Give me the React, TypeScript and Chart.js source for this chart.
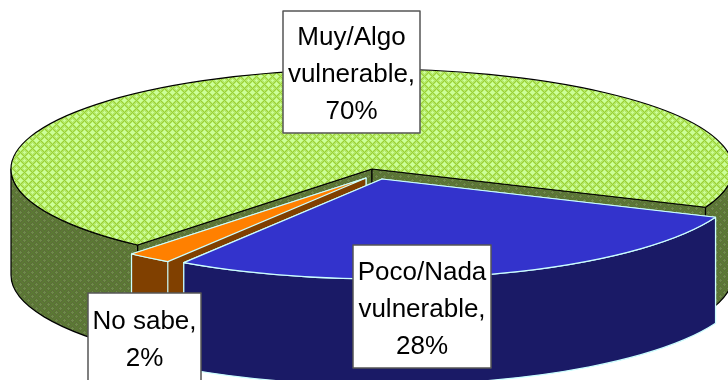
import React, { useEffect, useRef } from "react";
import { Chart, registerables } from "chart.js";

Chart.register(...registerables);

const categories = ["Poco/Nada vulnerable", "No sabe", "Muy/Algo vulnerable"];
const shares = [28, 2, 70];
const labelLines = [["Poco/Nada", "vulnerable,"], ["No sabe,"], ["Muy/Algo", "vulnerable,"]];

const RADIUS_X = 361;
const RADIUS_Y = 100;
const DEPTH = 106;
const centers = [
  [382, 179],
  [366, 178],
  [372, 169],
];
const labelBoxes = [
  [353, 245, 138, 123],
  [88, 293, 113, 88],
  [283, 11, 137, 122],
];
const drawOrder = [2, 1, 0];
const edgeColors = ["#CCFFFF", "#CCFFFF", "#000000"];

function tile(colorAt: (d: number) => string) {
  const c = document.createElement("canvas");
  c.width = 8;
  c.height = 8;
  const g = c.getContext("2d")!;
  for (let y = 0; y < 8; y++) {
    for (let x = 0; x < 8; x++) {
      const d = Math.abs(x - 4) + Math.abs(y - 4);
      g.fillStyle = colorAt(d);
      g.fillRect(x, y, 1, 1);
    }
  }
  return g.createPattern(c, "repeat")!;
}

const pie3d = {
  id: "pie3d",
  beforeDatasetDraw() {
    return false;
  },
  afterDatasetsDraw(chart: any) {
    const ctx: CanvasRenderingContext2D = chart.ctx;
    const arcs = chart.getDatasetMeta(0).data;
    const sides: any[] = chart.options.plugins.pie3d.sides;
    ctx.save();
    ctx.lineJoin = "round";
    for (const i of drawOrder) {
      const arc = arcs[i];
      const [cx, cy] = centers[i];
      const s = arc.startAngle;
      const e = arc.endAngle;
      ctx.lineWidth = i === 2 ? 1.2 : 1.2;
      ctx.strokeStyle = edgeColors[i];
      ctx.fillStyle = sides[i];
      for (const t of [s, e]) {
        const px = cx + RADIUS_X * Math.cos(t);
        const py = cy + RADIUS_Y * Math.sin(t);
        ctx.beginPath();
        ctx.moveTo(cx, cy);
        ctx.lineTo(px, py);
        ctx.lineTo(px, py + DEPTH);
        ctx.lineTo(cx, cy + DEPTH);
        ctx.closePath();
        ctx.fill();
        ctx.stroke();
      }
      for (let k = -1; k < 3; k++) {
        const t0 = Math.max(s, 2 * Math.PI * k);
        const t1 = Math.min(e, 2 * Math.PI * k + Math.PI);
        if (t1 <= t0) continue;
        ctx.beginPath();
        ctx.ellipse(cx, cy, RADIUS_X, RADIUS_Y, 0, t0, t1);
        ctx.ellipse(cx, cy + DEPTH, RADIUS_X, RADIUS_Y, 0, t1, t0, true);
        ctx.closePath();
        ctx.fill();
        ctx.stroke();
      }
      ctx.beginPath();
      ctx.moveTo(cx, cy);
      ctx.ellipse(cx, cy, RADIUS_X, RADIUS_Y, 0, s, e);
      ctx.closePath();
      ctx.fillStyle = arc.options.backgroundColor;
      ctx.fill();
      ctx.stroke();
    }
    ctx.font = '26px "Liberation Sans"';
    ctx.textAlign = "center";
    ctx.textBaseline = "middle";
    categories.forEach((_, i) => {
      const [x, y, w, h] = labelBoxes[i];
      ctx.fillStyle = "#FFFFFF";
      ctx.strokeStyle = "#555555";
      ctx.lineWidth = 1.5;
      ctx.fillRect(x, y, w, h);
      ctx.strokeRect(x, y, w, h);
      const lines = [...labelLines[i], `${shares[i]}%`];
      const lh = 37;
      const top = y + h / 2 + 3 - (lh * (lines.length - 1)) / 2;
      ctx.fillStyle = "#000000";
      lines.forEach((l, n) => ctx.fillText(l, x + w / 2, top + n * lh));
    });
    ctx.restore();
  },
};

export default function App() {
  const ref = useRef<HTMLCanvasElement>(null);
  useEffect(() => {
    document.body.style.margin = "0";
    const greenTop = tile((d) => (d <= 2 || d >= 7 ? "#CCFF99" : d === 4 ? "#99D133" : "#B4E868"));
    const greenSide = tile((d) => (d <= 1 || d >= 7 ? "#6E8A4A" : d === 4 ? "#5A8030" : "#5C7038"));
    const chart = new Chart(ref.current!, {
      type: "pie",
      data: {
        labels: categories,
        datasets: [
          {
            data: shares,
            backgroundColor: ["#3333CC", "#FF8000", greenTop],
            borderWidth: 0,
          },
        ],
      },
      plugins: [pie3d],
      options: {
        responsive: false,
        animation: false,
        rotation: 112.5,
        layout: { padding: 0 },
        plugins: {
          legend: { display: false },
          tooltip: { enabled: false },
          pie3d: { sides: ["#1A1A66", "#804000", greenSide] },
        } as any,
      },
    });
    return () => chart.destroy();
  }, []);
  return <canvas ref={ref} width={728} height={380} style={{ display: "block" }} />;
}
